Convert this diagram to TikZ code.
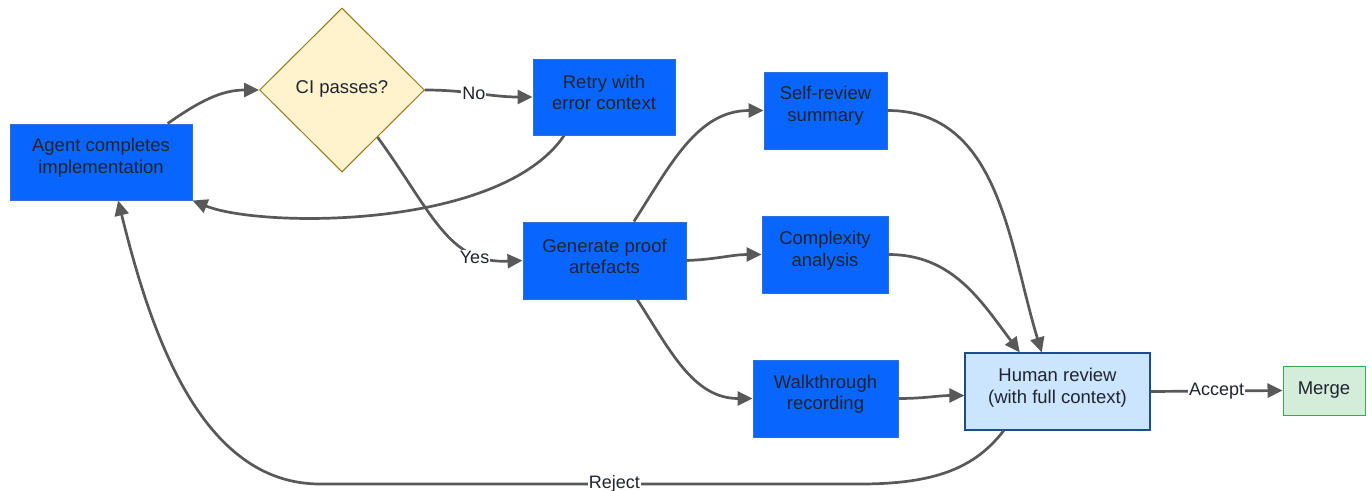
\documentclass[tikz,border=0pt]{standalone}
\usepackage{fontspec}
\setmainfont{Liberation Sans}
\usetikzlibrary{shapes.geometric,arrows.meta,calc}

\definecolor{ink}{HTML}{1F2430}
\definecolor{edgegray}{HTML}{595959}
\definecolor{stepfill}{HTML}{0866FF}
\definecolor{stepline}{HTML}{2F6FD6}
\definecolor{decfill}{HTML}{FFF3CD}
\definecolor{decline}{HTML}{9A7416}
\definecolor{humfill}{HTML}{CCE5FF}
\definecolor{humline}{HTML}{1E4D8C}
\definecolor{okfill}{HTML}{D4EDDA}
\definecolor{okline}{HTML}{3BAA4E}

\begin{document}
\begin{tikzpicture}[x=1pt,y=-1pt,
  font=\fontsize{18.5}{21.5}\selectfont,
  txt/.style={align=center,text=ink,inner sep=0pt},
  card/.style={rectangle,draw=stepline,fill=stepfill,line width=1pt,inner sep=0pt},
  humancard/.style={rectangle,draw=humline,fill=humfill,line width=1.2pt,inner sep=0pt},
  donecard/.style={rectangle,draw=okline,fill=okfill,line width=1pt,inner sep=0pt},
  decision/.style={diamond,draw=decline,fill=decfill,line width=1pt,inner sep=0pt},
  flow/.style={draw=edgegray,line width=2.7pt,-{Triangle[length=15pt,width=14pt]}},
  lbl/.style={fill=white,text=ink,inner sep=1pt,font=\fontsize{18}{20}\selectfont}
]
\useasboundingbox (0,0) rectangle (1372,490);

% process steps
\node[card, minimum width=182, minimum height=76,
  label={[txt,yshift=4.5pt]center:{Agent completes\\implementation}}] (agent) at (101,162) {};
\node[decision, minimum width=165, minimum height=164,
  label={[txt,yshift=1pt]center:{CI passes?}}] (ci) at (342,90) {};
\node[card, minimum width=142, minimum height=76,
  label={[txt,yshift=4.5pt]center:{Retry with\\error context}}] (retry) at (604,97) {};
\node[card, minimum width=163, minimum height=77,
  label={[txt,yshift=4pt]center:{Generate proof\\artefacts}}] (gen) at (604.5,260.5) {};
\node[card, minimum width=123, minimum height=77,
  label={[txt,yshift=5pt]center:{Self-review\\summary}}] (self) at (825.5,110.5) {};
\node[card, minimum width=126, minimum height=77,
  label={[txt,yshift=4pt]center:{Complexity\\analysis}}] (cx) at (825,254.5) {};
\node[card, minimum width=145, minimum height=77,
  label={[txt,yshift=4.5pt]center:{Walkthrough\\recording}}] (walk) at (825.5,398.5) {};
\node[humancard, minimum width=185, minimum height=77,
  label={[txt,yshift=4pt]center:{Human review\\(with full context)}}] (human) at (1057.5,391.5) {};
\node[donecard, minimum width=82, minimum height=49,
  label={[txt,yshift=0pt]center:{Merge}}] (merge) at (1324,390.5) {};

% connectors
\draw[flow] (agent.30) to[out=35,in=180] (ci.west);
\draw[flow] (ci.east) to[out=0,in=180] node[lbl,pos=0.45] {No} (retry.west);
\draw[flow] (retry.224) .. controls (500,230) and (260,228) .. (agent.south east);
\draw[flow] (ci.-53) .. controls (432,212) and (448,264) .. node[lbl,pos=0.74,yshift=-5pt] {Yes} (gen.west);
\draw[flow] (gen.53) to[out=57,in=180] (self.west);
\draw[flow] (gen.east) to[out=2,in=180] (cx.west);
\draw[flow] (gen.-50) to[out=-57,in=180] (walk.west);
\draw[flow] (self.east) to[out=0,in=107] (human.112);
\draw[flow] (cx.east) to[out=0,in=127] (human.134);
\draw[flow] (walk.east) to[out=0,in=180] ([yshift=-4pt]human.west);
\draw[flow] (human.east) -- node[lbl,pos=0.5] {Accept} (merge.west);
\draw[flow] (human.216) .. controls (975,468) and (935,484) .. (860,484)
  -- node[lbl,pos=0.455] {Reject} (320,484)
  .. controls (200,484) and (150,330) .. (agent.-66);
\end{tikzpicture}
\end{document}
